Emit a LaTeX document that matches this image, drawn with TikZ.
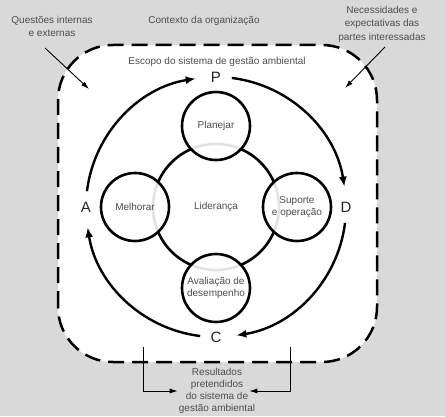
\documentclass[tikz,border=0pt]{standalone}
\usepackage{fontspec}
\setmainfont{Liberation Sans}
\usetikzlibrary{calc,arrows.meta}
\definecolor{bggray}{HTML}{D9D9D9}
\definecolor{txtgray}{HTML}{4D4D4D}
\tikzset{
	cyclearrow/.style={line width=2.4pt, -{Latex[length=10pt,width=8pt]}},
	stage/.style={circle, draw, line width=2.6pt, minimum size=68pt, inner sep=0pt,
		fill=white, fill opacity=0.89, draw opacity=1, text opacity=1,
		align=center, text=txtgray, font=\fontsize{10}{12}\selectfont},
	lbl/.style={text=txtgray, align=center, font=\fontsize{10}{12}\selectfont},
	lbltall/.style={lbl, font=\fontsize{10}{13.5}\selectfont},
	pdca/.style={text=black!85, inner sep=0pt, font=\fontsize{15}{15}\selectfont},
	inarrow/.style={line width=0.9pt, -{Latex[length=8pt,width=5pt]}}
}

\begin{document}
\begin{tikzpicture}[x=1pt, y=1pt]

	\pgfmathsetmacro\rcycle{130};
	\pgfmathsetmacro\rstage{81};
	\pgfmathsetmacro\rlead{63};
	% background and scope box
	\fill[bggray] (0,0) rectangle (445,416);
	\useasboundingbox (0,0) rectangle (445,416);
	\filldraw[fill=white, line width=2.5pt, dash pattern=on 16pt off 8pt,
		rounded corners=55pt] (58,54) rectangle (377,371);

	\coordinate (O) at (216,209);

	% PDCA cycle
	\foreach \a in {180,90,0,-90}
		\draw[cyclearrow] ($(O)+(\a-7:\rcycle)$) arc[start angle=\a-7, end angle=\a-81, radius=\rcycle];
	\foreach \a/\l in {90/P,0/D,-90/C,180/A}
		\node[pdca] (\l) at ($(O)+(\a:\rcycle)$) {\l};

	% leadership and stages
	\draw[line width=2.6pt] (O) circle (\rlead);
	\node[lbl] (lid) at (O) {Liderança};
	\node[stage] (plan) at ($(O)+(90:\rstage)$) {Planejar};
	\node[stage] (sup) at ($(O)+(0:\rstage)$) {Suporte\\e operação};
	\node[stage] (aval) at ($(O)+(-90:\rstage)$) {Avaliação de\\desempenho};
	\node[stage] (melh) at ($(O)+(180:\rstage)$) {Melhorar};

	% context texts
	\node[lbltall] (quest) at (52,389.5) {Questões internas\\e externas};
	\node[lbl] (ctx) at (204,395) {Contexto da organização};
	\node[lbltall] (nec) at (382,392) {Necessidades e\\expectativas das\\partes interessadas};
	\node[lbl] (esc) at (217,354) {Escopo do sistema de gestão ambiental};
	\node[lbl, inner sep=1pt] (res) at (217,25) {Resultados\\pretendidos\\do sistema de\\gestão ambiental};

	% arrows
	\coordinate (qfrom) at (45,368);
	\coordinate (qto) at (89,327);
	\coordinate (nfrom) at (385,369);
	\coordinate (nto) at (345,328);
	\coordinate (resl) at (143,69);
	\coordinate (resr) at (290,69);
	\draw[inarrow] (qfrom) -- (qto);
	\draw[inarrow] (nfrom) -- (nto);
	\draw[inarrow] (resl) |- (res.west);
	\draw[inarrow] (resr) |- ([xshift=-7pt]res.east);
\end{tikzpicture}
\end{document}
